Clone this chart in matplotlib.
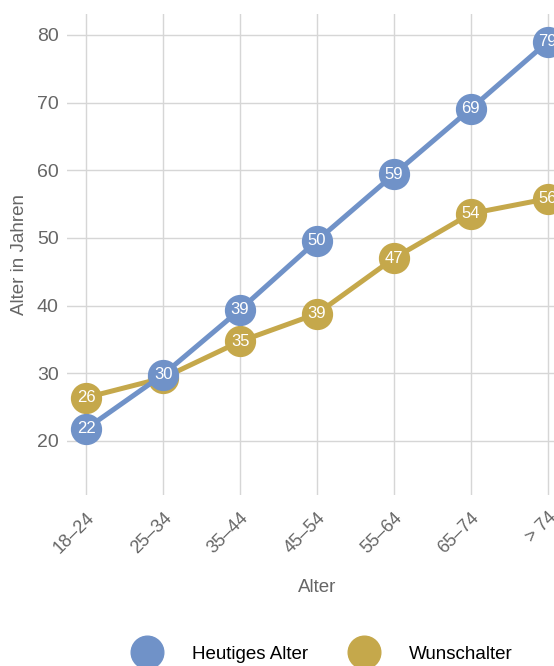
import matplotlib.pyplot as plt
from matplotlib.lines import Line2D

plt.rcParams['font.family'] = ['Liberation Sans', 'DejaVu Sans']

kategorien = ['18–24', '25–34', '35–44', '45–54', '55–64', '65–74', '> 74']
heute = [21.8, 29.8, 39.4, 49.6, 59.4, 69.1, 79.0]
wunsch = [26.4, 29.3, 34.7, 38.8, 47.0, 53.6, 55.8]
reihen = ['Heutiges Alter', 'Wunschalter']

blau = '#7092c8'
gold = '#c5a84b'

fig = plt.figure(figsize=(5.54, 6.66), dpi=100)
ax = fig.add_axes([67 / 554, 171 / 666, 500 / 554, 481 / 666])

x = list(range(len(kategorien)))

# Gold zuerst, Blau liegt oben (verdeckt auch die Gold-Beschriftung bei 25-34)
for z, (werte, farbe) in enumerate([(wunsch, gold), (heute, blau)]):
    ax.plot(x, werte, color=farbe, lw=3.6, marker='o', ms=21.5, zorder=3 + 2 * z)
    for xi, v in zip(x, werte):
        ax.text(xi, v, str(round(v)), color='white', fontsize=12,
                ha='center', va='center', zorder=4 + 2 * z)

ax.set_xlim(-0.25, 6.25)
ax.set_ylim(12, 83.1)
ax.set_yticks([20, 30, 40, 50, 60, 70, 80])
ax.set_xticks(x)
ax.set_xticklabels(kategorien, rotation=45, ha='right', rotation_mode='anchor')
ax.tick_params(length=0, colors='#666666')
ax.tick_params(axis='x', labelsize=13, pad=10)
ax.tick_params(axis='y', labelsize=14, pad=6)
ax.grid(True, color='#d6d6d6', lw=1)
ax.set_axisbelow(True)
for s in ax.spines.values():
    s.set_visible(False)

ax.set_xlabel('Alter', fontsize=13.5, color='#666666', labelpad=16)
ax.set_ylabel('Alter in Jahren', fontsize=13.5, color='#666666', labelpad=6)

handles = [Line2D([], [], ls='', marker='o', ms=23.5, color=blau),
           Line2D([], [], ls='', marker='o', ms=23.5, color=gold)]
fig.legend(handles, reihen, loc='center', bbox_to_anchor=(0.578, 0.018),
           ncol=2, frameon=False, fontsize=13.5, handletextpad=1.4,
           columnspacing=2.0, borderpad=0)

fig.savefig('out.png', dpi=100)
